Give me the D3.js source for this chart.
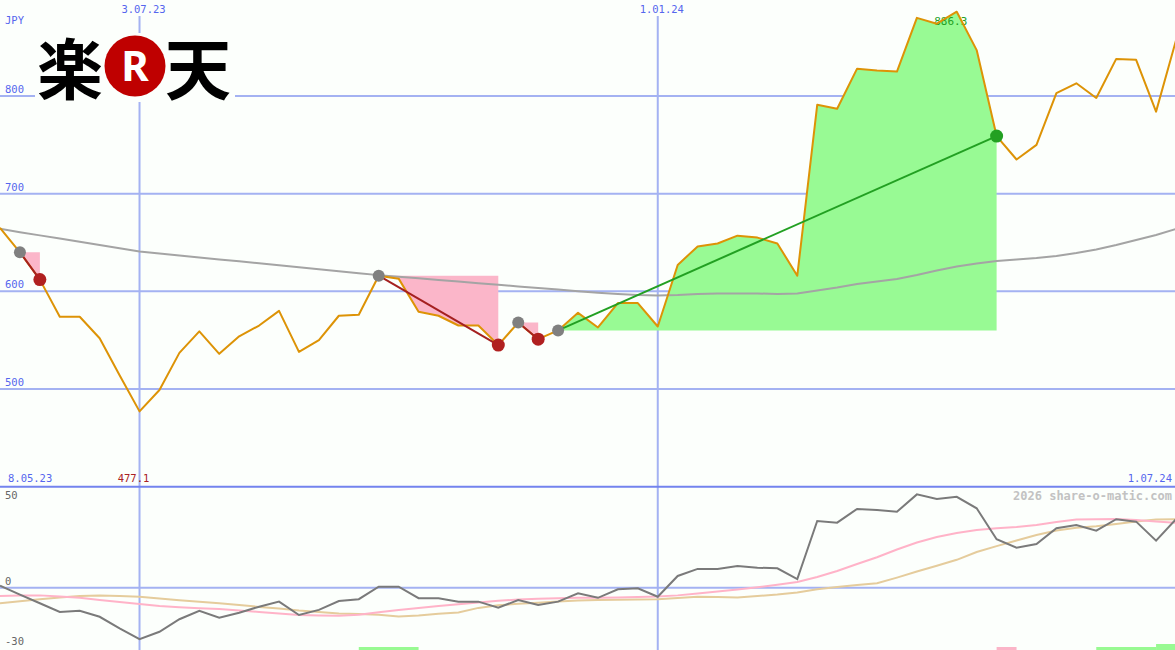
<!DOCTYPE html>
<html><head><meta charset="utf-8">
<script src="https://cdn.jsdelivr.net/npm/d3@7"></script>
<style>
html,body{margin:0;padding:0;background:#fcfffc;}
svg{display:block;}
</style></head>
<body>
<svg id="c" width="1175" height="650"></svg>
<script>
// ---------- data ----------
const startDate = "2023-05-15"; // first weekly point
const price = [665,640,612,574,574,552,514,477.1,499,537,559,536,554,565,580,538,550,575,576,616,
  613,579,575,565,565,545,568,551,560,578,563,588,588,564,627,646,649,657,655,649,
  616,791,787,828,826,825,880,874,886.3,847,759,735,750,803,813,798,838,837,784,857];
const maLong = [664,660.5,657.3,654,650.7,647.4,644.1,640.8,638.8,636.8,634.7,632.7,630.7,628.7,626.7,624.6,622.7,620.6,618.6,616.6,
  615,613.3,611.7,610.1,608.4,606.8,605,603.4,601.8,600.1,598.5,597.3,596.2,595.7,596.2,597.3,597.8,597.8,597.8,597.3,
  597.8,600.8,603.9,607.5,610.1,612.6,616.7,621.3,625.4,628.5,631.1,632.6,634.1,636.2,639.2,642.8,647.4,652.6,657.7,663.8];
const oscMain = [1,-3.4,-7.7,-12,-11.4,-14.4,-20.1,-25.5,-21.8,-15.6,-11.4,-14.9,-12.4,-9.4,-6.9,-13.5,-11,-6.6,-5.7,0.5,
  0.5,-5.2,-5.2,-6.9,-6.9,-9.9,-6.1,-8.6,-6.9,-2.8,-5,-0.8,-0.3,-4.5,5.8,9.3,9.3,10.7,9.9,9.6,
  4.3,33,32.2,39,38.5,37.6,46.2,43.9,45,39.3,24,19.8,21.6,29.4,31,28.2,33.9,32.7,23.3,33.9];
const oscPink = [-4.1,-3.9,-3.8,-4.3,-5,-6.1,-7.1,-8.1,-9.1,-9.7,-10.2,-10.6,-11.3,-12,-12.8,-13.5,-13.8,-13.9,-13.4,-12.2,
  -11,-10,-9.1,-8.2,-7.3,-6.5,-5.9,-5.5,-5.2,-5,-5,-4.8,-4.6,-4.4,-3.8,-2.9,-1.9,-0.9,0.2,1.5,
  2.8,5.3,8.3,11.7,15.1,18.9,22.4,25.1,27.1,28.6,29.4,30,31,32.5,33.8,33.9,34,33.5,32.8,32.1];
const oscTan = [-7.7,-6.7,-5.7,-4.8,-4.1,-3.9,-4.1,-4.5,-5.3,-6.2,-6.9,-7.7,-8.6,-9.5,-10.3,-11.3,-12,-12.8,-13,-13.4,
  -14.2,-13.8,-12.9,-12.3,-10,-8.7,-8,-7.4,-6.8,-6.3,-6.1,-6,-5.8,-5.7,-5.1,-4.5,-4.6,-4.8,-4.1,-3.4,
  -2.4,-0.8,0.3,1.3,2.2,5,8,10.9,13.8,17.7,20.6,23.4,26.1,28.3,29.7,30.4,31.5,32.8,33.8,33.9];
// trades: entry index, exit index, result
const trades = [
  {from:1, to:2, win:false},
  {from:19, to:25, win:false},
  {from:26, to:27, win:false},
  {from:28, to:50, win:true}
];
// signal bars at bottom of oscillator panel: from index, to index, level, kind
const sigBars = [
  {from:18, to:21, level:1, win:true},
  {from:50, to:51, level:1, win:false},
  {from:55, to:58, level:1, win:true},
  {from:58, to:59, level:2, win:true}
];
const priceTicks = [800,700,600,500];
const oscTicks = [50,0,-30];
const dateTicks = ["2023-07-03","2024-01-01"];
const dateTickLabels = ["3.07.23","1.01.24"];
const cornerLabels = {left:"8.05.23", right:"1.07.24", currency:"JPY"};
const minLabel = "477.1", maxLabel = "886.3";

// ---------- setup ----------
const parse = d3.utcParse("%Y-%m-%d");
const d0 = parse(startDate);
const dates = price.map((_, i) => d3.utcDay.offset(d0, 7 * i));
const W = 1175, H = 650;
const svg = d3.select("#c");
const x = d3.scaleUtc().domain([d0, parse("2024-07-01")]).range([0, 1176]);
const y = d3.scaleLinear().domain([500, 800]).range([389, 96]);
const yo = d3.scaleLinear().domain([-30, 50]).range([648.3, 486.7]);
const X = i => x(dates[i]);

const gridCol = "#a4b2f2", labCol = "#5566ee", mono = "'DejaVu Sans Mono', monospace";

svg.append("rect").attr("width", W).attr("height", H).attr("fill", "#fcfffc");

// grid horizontal (price)
svg.append("g").selectAll("line").data(priceTicks).join("line")
  .attr("x1", 0).attr("x2", W).attr("y1", d => y(d)).attr("y2", d => y(d))
  .attr("stroke", gridCol).attr("stroke-width", 2);
// osc zero line
svg.append("line").attr("x1", 0).attr("x2", W).attr("y1", yo(0)).attr("y2", yo(0))
  .attr("stroke", gridCol).attr("stroke-width", 2);
// vertical grid
svg.append("g").selectAll("line").data(dateTicks).join("line")
  .attr("x1", d => x(parse(d))).attr("x2", d => x(parse(d)))
  .attr("y1", 16).attr("y2", H).attr("stroke", gridCol).attr("stroke-width", 2);
// separator
svg.append("line").attr("x1", 0).attr("x2", W).attr("y1", yo(50)).attr("y2", yo(50))
  .attr("stroke", "#7383ee").attr("stroke-width", 2);

// ---------- oscillator panel ----------
const oline = arr => d3.line().x((d, i) => X(i)).y(d => yo(d))(arr);
svg.append("path").attr("d", oline(oscTan)).attr("fill", "none").attr("stroke", "#e5cc9c").attr("stroke-width", 2);
svg.append("path").attr("d", oline(oscPink)).attr("fill", "none").attr("stroke", "#ffb3c8").attr("stroke-width", 2);
svg.append("path").attr("d", oline(oscMain)).attr("fill", "none").attr("stroke", "#7a7a7a").attr("stroke-width", 2);
svg.append("g").selectAll("rect").data(sigBars).join("rect")
  .attr("x", d => X(d.from)).attr("width", d => X(d.to) - X(d.from))
  .attr("y", d => H - 3 * d.level).attr("height", d => 3 * d.level)
  .attr("fill", d => d.win ? "#98fa92" : "#fbb5c8");

// ---------- trade areas ----------
trades.forEach(t => {
  const base = price[t.from];
  const idx = d3.range(t.from, t.to + 1);
  const area = d3.area().x(i => X(i)).y0(y(base)).y1(i => y(price[i]));
  svg.append("path").attr("d", area(idx)).attr("fill", t.win ? "#98fa94" : "#fbb6c9");
});

// long MA
svg.append("path").attr("d", d3.line().x((d, i) => X(i)).y(d => y(d))(maLong))
  .attr("fill", "none").attr("stroke", "#a4a4a4").attr("stroke-width", 2);

// min / max labels
const iMax = d3.maxIndex(price), iMin = d3.minIndex(price);
svg.append("text").attr("x", X(iMax) - 6).attr("y", 25).attr("text-anchor", "middle")
  .attr("font-family", mono).attr("font-size", 11).attr("fill", "#22a022").text(maxLabel);
svg.append("text").attr("x", X(iMin) - 6).attr("y", 482).attr("text-anchor", "middle")
  .attr("font-family", mono).attr("font-size", 10.5).attr("fill", "#aa2222").text(minLabel);

// price line
svg.append("path").attr("d", d3.line().x((d, i) => X(i)).y(d => y(d))(price))
  .attr("fill", "none").attr("stroke", "#dd9306").attr("stroke-width", 2).attr("stroke-linejoin", "round");

// trade lines and dots
trades.forEach(t => {
  const col = t.win ? "#22a022" : "#a52020";
  svg.append("line").attr("x1", X(t.from)).attr("y1", y(price[t.from]))
    .attr("x2", X(t.to)).attr("y2", y(price[t.to])).attr("stroke", col).attr("stroke-width", 2);
  svg.append("circle").attr("cx", X(t.from)).attr("cy", y(price[t.from])).attr("r", 6).attr("fill", "#808080");
  svg.append("circle").attr("cx", X(t.to)).attr("cy", y(price[t.to])).attr("r", 6.5).attr("fill", t.win ? "#22a022" : "#b02020");
});

// ---------- labels ----------
const txt = (s, xx, yy, anchor, col, size, weight) => svg.append("text")
  .attr("x", xx).attr("y", yy).attr("text-anchor", anchor || "start")
  .attr("font-family", mono).attr("font-size", size || 10.5).attr("font-weight", weight || "normal")
  .attr("fill", col || labCol).text(s);

txt(cornerLabels.currency, 5, 24);
priceTicks.forEach(v => txt(String(v), 5, y(v) - 3));
dateTicks.forEach((d, k) => txt(dateTickLabels[k], x(parse(d)) + 4, 13, "middle"));
txt(cornerLabels.left, 8, 482);
txt(cornerLabels.right, 1172, 482, "end");
txt("2026 share-o-matic.com", 1172, 500, "end", "#c2c2c2", 12, "bold");
txt("50", 5, 499, "start", "#666");
txt("0", 5, yo(0) - 3, "start", "#666");
txt("-30", 5, 645, "start", "#666");

// ---------- logo ----------
const logo = svg.append("g");
logo.append("rect").attr("x", 35).attr("y", 33).attr("width", 200).attr("height", 69).attr("fill", "#fcfffc");
logo.append("text").attr("x", 70).attr("y", 94).attr("text-anchor", "middle")
  .attr("font-family", "'Noto Sans CJK JP', sans-serif").attr("font-weight", "bold").attr("font-size", 66)
  .attr("fill", "#000").text("楽");
logo.append("circle").attr("cx", 135).attr("cy", 66).attr("r", 30.5).attr("fill", "#bf0000");
logo.append("text").attr("x", 135).attr("y", 81).attr("text-anchor", "middle")
  .attr("font-family", "'Noto Sans', sans-serif").attr("font-weight", "bold").attr("font-size", 42)
  .attr("fill", "#fff").text("R");
logo.append("text").attr("x", 198).attr("y", 94).attr("text-anchor", "middle")
  .attr("font-family", "'Noto Sans CJK JP', sans-serif").attr("font-weight", "bold").attr("font-size", 66)
  .attr("fill", "#000").text("天");
</script>
</body></html>
